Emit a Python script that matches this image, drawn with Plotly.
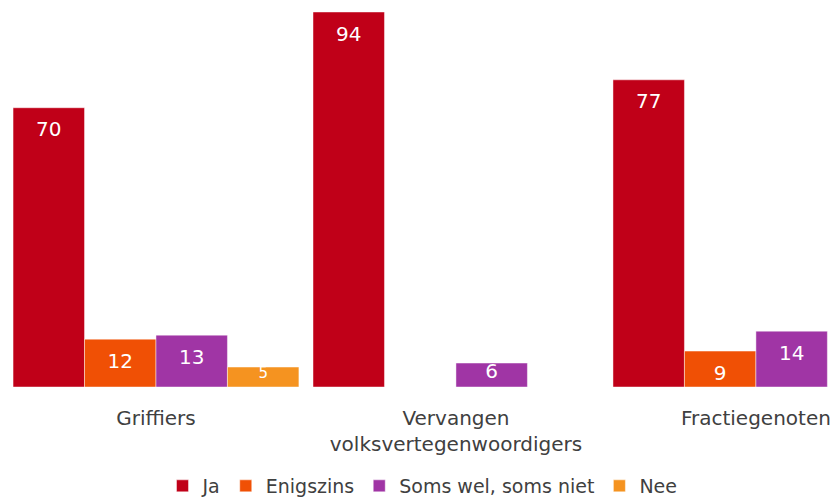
import plotly.graph_objects as go

categories = ["Griffiers", "Vervangen<br>volksvertegenwoordigers", "Fractiegenoten"]
series_names = ["Ja", "Enigszins", "Soms wel, soms niet", "Nee"]
ja = [70, 94, 77]
enigszins = [12, None, 9]
soms = [13, 6, 14]
nee = [5, None, None]
colors = ["#C00018", "#F05005", "#A035A5", "#F59320"]

fig = go.Figure()
for i, (name, vals, col) in enumerate(zip(series_names, [ja, enigszins, soms, nee], colors)):
    fig.add_trace(go.Bar(
        x=categories, y=vals, name=name, offsetgroup=str(i),
        marker=dict(color=col, line=dict(color="rgba(255,255,255,0.45)", width=1)),
        hoverinfo="skip",
    ))
for i, (name, vals) in enumerate(zip(series_names, [ja, enigszins, soms, nee])):
    small = [(v is not None and v < 8) for v in vals]
    fig.add_trace(go.Scatter(
        x=categories, y=vals, offsetgroup=str(i), orientation="v",
        mode="markers+text",
        marker=dict(size=[0 if s else 20 for s in small], opacity=0),
        text=[("" if v is None else str(v)) for v in vals],
        textposition="bottom center",
        textfont=dict(color="white",
                      size=[(15 if (v is not None and v < 6) else 20) for v in vals],
                      family="DejaVu Sans"),
        showlegend=False, hoverinfo="skip", cliponaxis=False,
    ))

fig.update_layout(
    width=839, height=500,
    margin=dict(l=6, r=0, t=12, b=113, autoexpand=False),
    barmode="group", bargap=0.047, bargroupgap=0,
    scattermode="group", scattergap=0.047,
    plot_bgcolor="white", paper_bgcolor="white",
    font=dict(family="DejaVu Sans", color="#404040", size=20),
    showlegend=True,
    legend=dict(orientation="h", x=0.5, xanchor="center", y=-0.264, yanchor="middle",
                font=dict(size=19, color="#404040"), traceorder="normal"),
    xaxis=dict(range=[-0.5, 2.277], showline=False, ticks="", showgrid=False,
               automargin=False, ticklabelstandoff=17,
               tickfont=dict(size=20, color="#404040")),
    yaxis=dict(range=[0, 94], visible=False, showgrid=False, zeroline=False, automargin=False),
)

fig.write_html("out.html", config={"displayModeBar": False},
               post_script="document.body.style.margin='0';document.body.style.padding='0';")
